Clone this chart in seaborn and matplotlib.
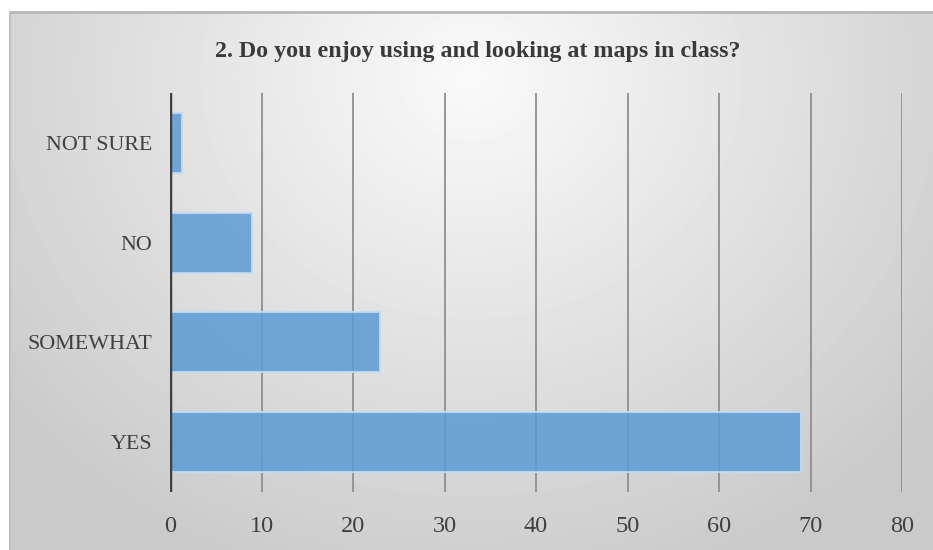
import numpy as np
import pandas as pd
import matplotlib
matplotlib.use("Agg")
import matplotlib.pyplot as plt
import seaborn as sns

categories = ["NOT SURE", "NO", "SOMEWHAT", "YES"]
values = [1.3, 9, 23, 69]
xticks = [0, 10, 20, 30, 40, 50, 60, 70, 80]
title = "2. Do you enjoy using and looking at maps in class?"

sns.set_theme(style="white")
plt.rcParams['font.family'] = ['Liberation Serif', 'DejaVu Serif']

W, H = 933, 550
fig = plt.figure(figsize=(W / 100, H / 100), dpi=100)
fig.patch.set_facecolor("white")

# gradient background panel
bx0, by0 = 9, 11
bg = fig.add_axes([bx0 / W, 0, 1 - bx0 / W, 1 - by0 / H], zorder=-5)
gw, gh = W - bx0, H - by0
yy, xx = np.mgrid[0:gh, 0:gw]
cx, cy = gw * 0.5, gh * 0.12
d = np.sqrt(((xx - cx) / (gw * 0.65)) ** 2 + ((yy - cy) / (gh * 1.0)) ** 2)
d = np.clip(d, 0, 1)
light, dark = 0.98, 0.79
img = light - (light - dark) * d ** 1.0
bg.imshow(img, cmap="gray", vmin=0, vmax=1, aspect="auto", interpolation="bilinear")
bg.set_axis_off()
bg.axhline(0, color="#b8b8b8", lw=2)
bg.axvline(0, color="#c0c0c0", lw=1.5)

# main axes
L, R, T, B = 170, 902, 93, 492
ax = fig.add_axes([L / W, 1 - B / H, (R - L) / W, (B - T) / H])
ax.patch.set_alpha(0)

df = pd.DataFrame({"cat": categories, "val": values})
sns.barplot(data=df, x="val", y="cat", orient="h", width=0.6,
            color="#5b9bd5", alpha=0.85, edgecolor="#c5dcf2", linewidth=1.5,
            ax=ax, zorder=3, saturation=1)

ax.set_xlim(0, 80)
ax.set_xticks(xticks)
ax.set_xticklabels([str(t) for t in xticks])
ax.set_xlabel("")
ax.set_ylabel("")
for t in xticks:
    if t == 0:
        continue
    ax.axvline(t, color="#8f8f8f", lw=1.3, zorder=1)
ax.axvline(0, color="#404040", lw=2.5, zorder=4)
for s in ax.spines.values():
    s.set_visible(False)
ax.tick_params(axis="x", length=0, pad=17, labelsize=17.5, labelcolor="#404040")
ax.tick_params(axis="y", length=0, pad=13, labelsize=15.8, labelcolor="#404040")

fig.text((213 + 742) / 2 / W, 1 - 51 / H, title, ha="center", va="center",
         fontsize=17.3, fontweight="bold", color="#3a3a3a")

fig.savefig("out.png", dpi=100)
